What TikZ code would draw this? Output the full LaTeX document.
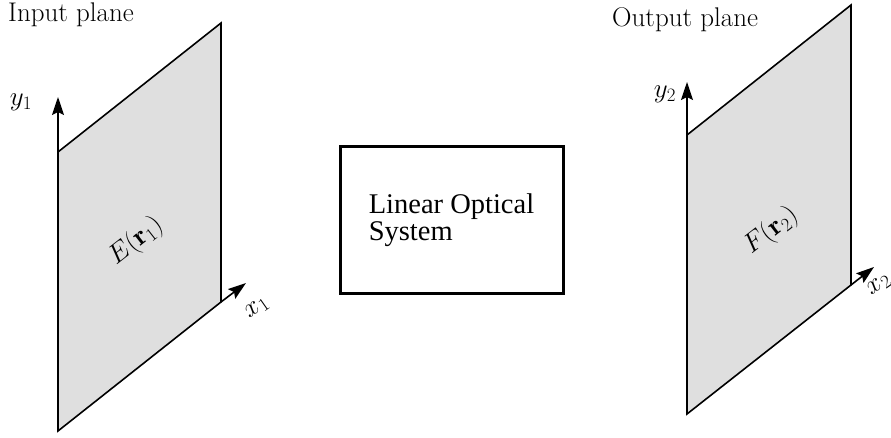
\RequirePackage{fix-cm}
\documentclass[tikz,border=0pt]{standalone}
\usepackage{fontspec}
\newfontfamily\boxfont{Liberation Serif}
\usetikzlibrary{arrows.meta}
\begin{document}
\begin{tikzpicture}[x=1pt,y=-1pt,
  plane/.style={fill=gray!25, draw=black, line width=1.6pt, line join=miter},
  axis/.style={line width=1.6pt, -{Stealth[length=18pt,width=12pt,inset=3pt]}},
  lbl/.style={font=\fontsize{27}{31}\selectfont, inner sep=0pt},
  sysbox/.style={draw, line width=3pt, minimum width=223pt, minimum height=146pt, align=left,
    font=\boxfont\fontsize{28.5}{27}\selectfont}
]
\useasboundingbox (0,0) rectangle (891,438);

% input plane
\coordinate (iBL) at (58,431);
\coordinate (iBR) at (221,302);
\coordinate (iTR) at (221,23);
\coordinate (iTL) at (58,152);
\coordinate (iY) at (58,97);
\coordinate (iX) at (246,283);
\draw[plane] (iBL) -- (iBR) -- (iTR) -- (iTL) -- cycle;
\draw[axis] (iTL) -- (iY);
\draw[axis] (iBR) -- (iX);

% output plane
\coordinate (oBL) at (687,414);
\coordinate (oBR) at (851,285);
\coordinate (oTR) at (851,5);
\coordinate (oTL) at (687,135);
\coordinate (oY) at (687,82);
\coordinate (oX) at (874,267);
\draw[plane] (oBL) -- (oBR) -- (oTR) -- (oTL) -- cycle;
\draw[axis] (oTL) -- (oY);
\draw[axis] (oBR) -- (oX);

% labels
\node[lbl, anchor=base west] (inlbl) at (8,22) {Input plane};
\node[lbl, anchor=base west] (outlbl) at (612,27) {Output plane};
\node[lbl] (y1) at (21,102) {$y_1$};
\node[lbl] (y2) at (665,94) {$y_2$};
\node[lbl, rotate=35] (x1) at (257,308) {$x_1$};
\node[lbl, rotate=35] (x2) at (879,285) {$x_2$};
\node[lbl, rotate=38] (E) at (136,241) {$E(\mathbf{r}_1)$};
\node[lbl, rotate=38] (F) at (771,231) {$F(\mathbf{r}_2)$};

% system box
\node[sysbox] (sys) at (451.5,220) {Linear Optical\\System};
\end{tikzpicture}
\end{document}
